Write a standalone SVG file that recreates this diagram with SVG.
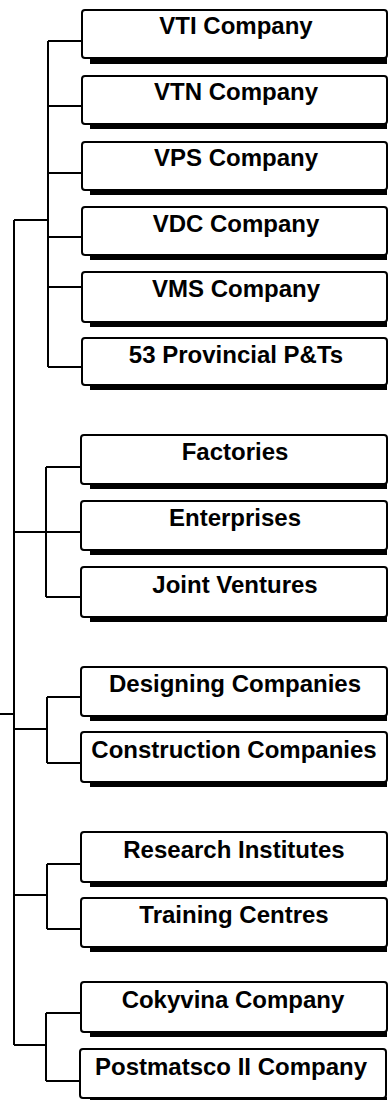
<svg xmlns="http://www.w3.org/2000/svg" width="389" height="1100" viewBox="0 0 389 1100">
<style>
.box{fill:#fff;stroke:#000;stroke-width:2}
.sh{fill:#000}
.lbl{font-family:"Liberation Sans",Arial,sans-serif;font-weight:bold;font-size:24px;fill:#000;text-anchor:middle}
.ln{fill:none;stroke:#000;stroke-width:2}
</style>
<rect width="389" height="1100" fill="#fff"/>
<g id="connectors">
<path class="ln" d="M0 714H14M14 220V1045"/>
<path class="ln" d="M14 220H48M48 41V367M48 41H82M48 106H82M48 173H82M48 237H82M48 287H82M48 367H82"/>
<path class="ln" d="M14 532H46M46 467V597M46 467H82M46 532H82M46 597H82"/>
<path class="ln" d="M14 729H47M47 697V763M47 697H82M47 763H82"/>
<path class="ln" d="M14 895H47M47 864V929M47 864H82M47 929H82"/>
<path class="ln" d="M14 1045H46M46 1013V1081M46 1013H82M46 1081H82"/>
</g>
<g id="n1"><rect class="sh" x="90" y="57" width="297" height="7"/><rect class="box" x="82" y="10" width="305" height="48" rx="3"/><text class="lbl" x="236" y="34">VTI Company</text></g>
<g id="n2"><rect class="sh" x="90" y="123" width="297" height="6"/><rect class="box" x="82" y="76" width="305" height="48" rx="3"/><text class="lbl" x="236" y="100">VTN Company</text></g>
<g id="n3"><rect class="sh" x="90" y="189" width="297" height="6"/><rect class="box" x="82" y="142" width="305" height="48" rx="3"/><text class="lbl" x="236" y="166">VPS Company</text></g>
<g id="n4"><rect class="sh" x="90" y="254" width="297" height="6"/><rect class="box" x="82" y="207" width="305" height="48" rx="3"/><text class="lbl" x="236" y="232">VDC Company</text></g>
<g id="n5"><rect class="sh" x="90" y="321" width="297" height="6"/><rect class="box" x="82" y="272" width="305" height="50" rx="3"/><text class="lbl" x="236" y="297">VMS Company</text></g>
<g id="n6"><rect class="sh" x="90" y="384" width="297" height="6"/><rect class="box" x="82" y="338" width="305" height="47" rx="3"/><text class="lbl" x="236" y="363">53 Provincial P&amp;Ts</text></g>
<g id="n7"><rect class="sh" x="90" y="483" width="297" height="6"/><rect class="box" x="81" y="435" width="306" height="49" rx="3"/><text class="lbl" x="235" y="460">Factories</text></g>
<g id="n8"><rect class="sh" x="90" y="549" width="297" height="6"/><rect class="box" x="81" y="501" width="306" height="49" rx="3"/><text class="lbl" x="235" y="526">Enterprises</text></g>
<g id="n9"><rect class="sh" x="90" y="616" width="297" height="6"/><rect class="box" x="81" y="567" width="306" height="50" rx="3"/><text class="lbl" x="235" y="593">Joint Ventures</text></g>
<g id="n10"><rect class="sh" x="90" y="715" width="297" height="6"/><rect class="box" x="81" y="667" width="306" height="49" rx="3"/><text class="lbl" x="235" y="692">Designing Companies</text></g>
<g id="n11"><rect class="sh" x="90" y="781" width="297" height="6"/><rect class="box" x="81" y="732" width="306" height="50" rx="3"/><text class="lbl" x="234" y="758">Construction Companies</text></g>
<g id="n12"><rect class="sh" x="90" y="881" width="297" height="6"/><rect class="box" x="81" y="832" width="306" height="50" rx="3"/><text class="lbl" x="234" y="858">Research Institutes</text></g>
<g id="n13"><rect class="sh" x="90" y="946" width="297" height="6"/><rect class="box" x="81" y="898" width="306" height="49" rx="3"/><text class="lbl" x="234" y="923">Training Centres</text></g>
<g id="n14"><rect class="sh" x="90" y="1031" width="297" height="6"/><rect class="box" x="81" y="982" width="306" height="50" rx="3"/><text class="lbl" x="233" y="1008">Cokyvina Company</text></g>
<g id="n15"><rect class="sh" x="90" y="1097" width="297" height="6"/><rect class="box" x="80" y="1049" width="306" height="49" rx="3"/><text class="lbl" x="231" y="1075">Postmatsco II Company</text></g>
</svg>
